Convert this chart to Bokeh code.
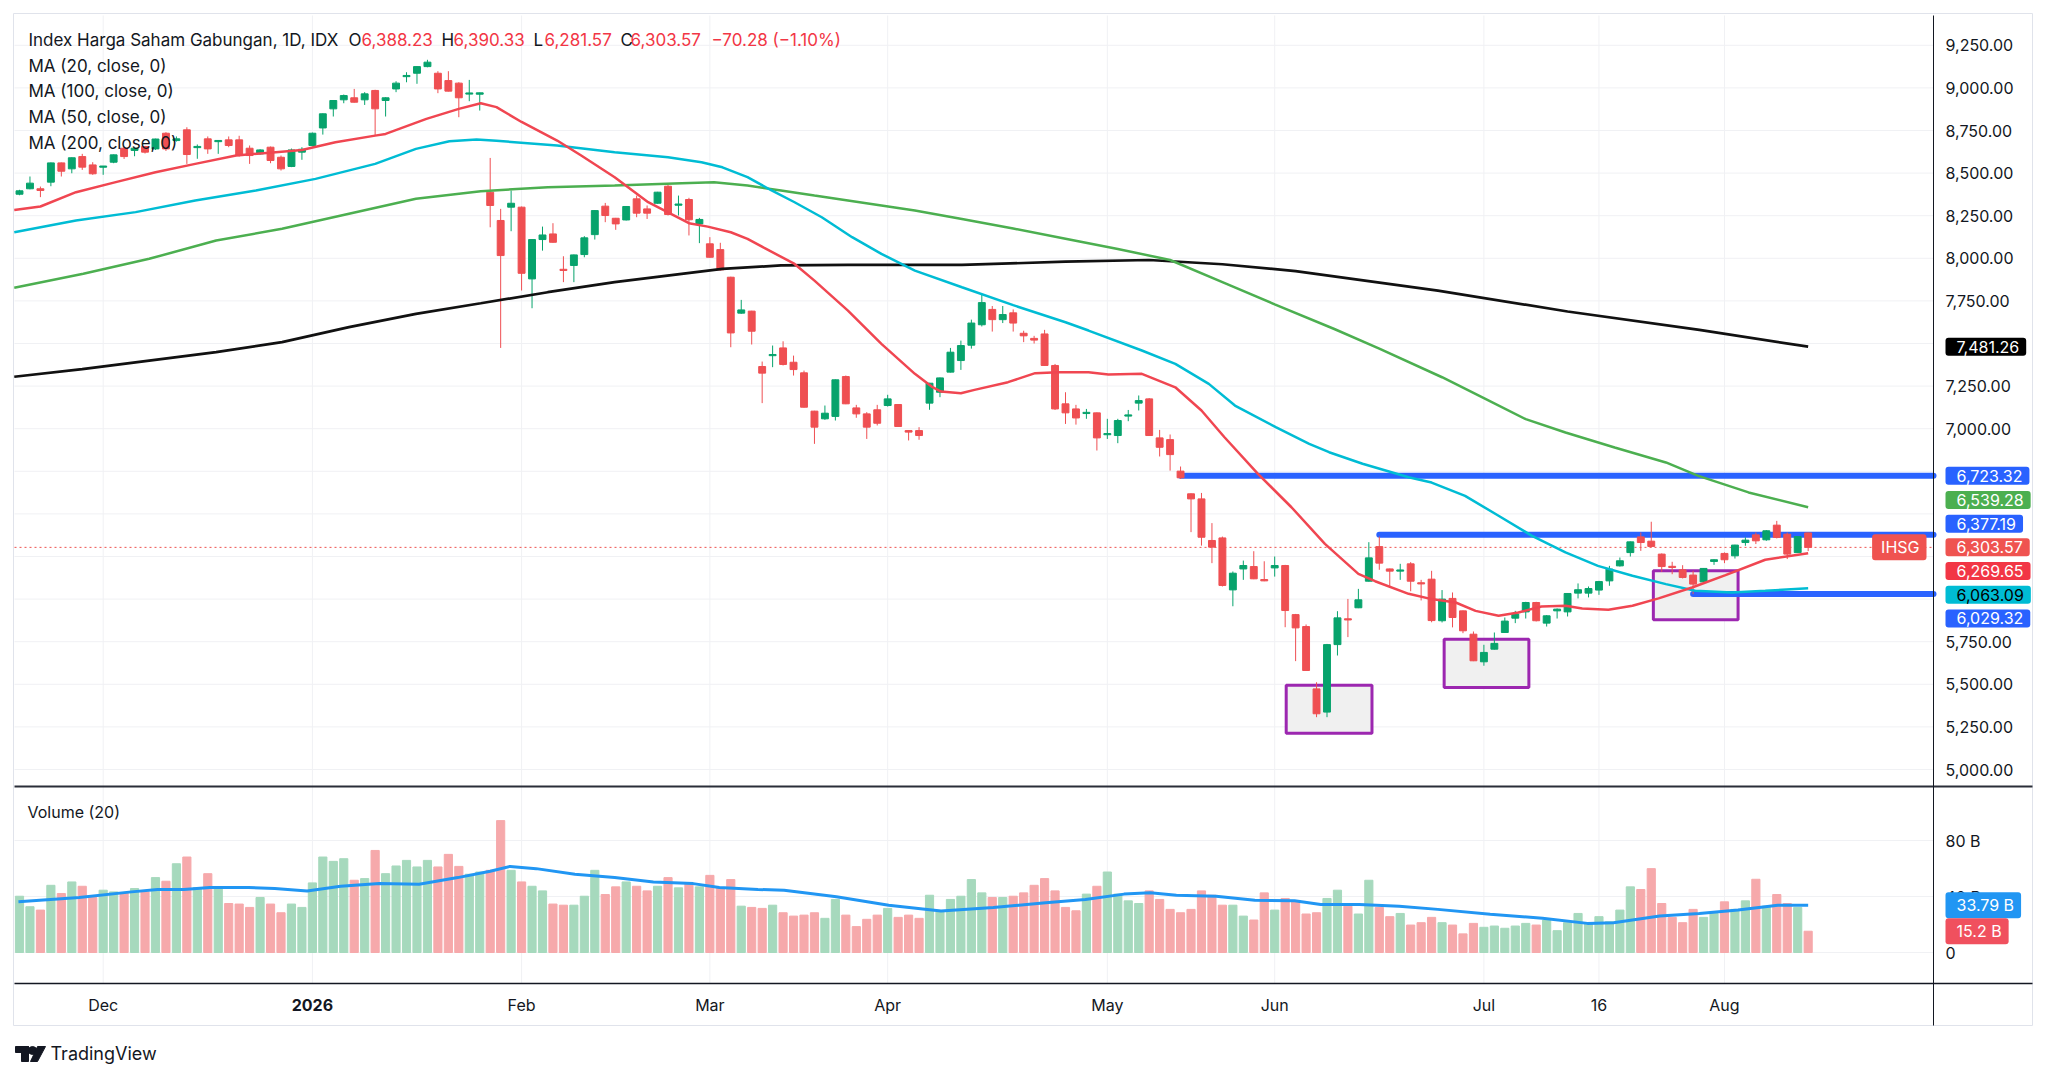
from bokeh.plotting import figure
from bokeh.models import Range1d, Label, ColumnDataSource
from bokeh.core.properties import value
from bokeh.embed import file_html
from bokeh.resources import INLINE

# ---------------- data ----------------
opens = [8376, 8408, 8408, 8447, 8560, 8525, 8597, 8548, 8535, 8564,
         8646, 8633, 8656, 8642, 8734, 8691, 8754, 8650, 8701, 8685,
         8695, 8695, 8646, 8613, 8652, 8593, 8539, 8623, 8662, 8765,
         8877, 8930, 8942, 8930, 8985, 8926, 8994, 9067, 9086, 9125,
         9086, 9043, 9028, 8965, 8963, 8388, 8222, 8300, 8300, 7879,
         8110, 8143, 7934, 7958, 8022, 8139, 8306, 8235, 8225, 8349,
         8290, 8323, 8423, 8314, 8345, 8202, 8085, 8051, 7889, 7678,
         7690, 7365, 7431, 7474, 7390, 7328, 7103, 7058, 7072, 7306,
         7122, 7087, 7111, 7136, 7142, 6989, 6989, 7150, 7214, 7332,
         7400, 7490, 7610, 7700, 7640, 7680, 7560, 7530, 7556, 7371,
         7146, 7116, 7090, 7093, 6966, 6960, 7075, 7150, 7175, 6946,
         6936, 6751, 6618, 6588, 6344, 6359, 6054, 6177, 6191, 6115,
         6183, 6197, 5909, 5839, 5473, 5337, 5733, 5882, 5949, 6105,
         6308, 6177, 6165, 6207, 6095, 6117, 5873, 6004, 5931, 5794,
         5632, 5706, 5804, 5888, 5925, 5980, 5859, 5931, 5925, 6035,
         6035, 6053, 6107, 6195, 6273, 6365, 6340, 6264, 6191, 6172,
         6141, 6101, 6221, 6268, 6254, 6332, 6377, 6348, 6434, 6381,
         6273, 6388.23]
highs = [8402, 8480, 8421, 8562, 8562, 8592, 8613, 8564, 8541, 8609,
         8656, 8648, 8660, 8702, 8740, 8715, 8769, 8668, 8715, 8693,
         8715, 8719, 8662, 8640, 8656, 8603, 8644, 8652, 8738, 8850,
         8928, 8961, 8994, 8975, 8989, 8945, 9039, 9092, 9127, 9165,
         9098, 9098, 9033, 9047, 8972, 8589, 8290, 8398, 8304, 8112,
         8186, 8206, 8012, 8022, 8130, 8282, 8325, 8237, 8306, 8368,
         8310, 8390, 8431, 8368, 8355, 8237, 8124, 8091, 7892, 7756,
         7692, 7394, 7488, 7513, 7429, 7341, 7105, 7136, 7289, 7312,
         7140, 7097, 7140, 7199, 7144, 6991, 7009, 7269, 7300, 7474,
         7517, 7640, 7790, 7720, 7720, 7700, 7575, 7545, 7580, 7380,
         7214, 7140, 7116, 7095, 7058, 7058, 7110, 7195, 7180, 6993,
         6966, 6778, 6620, 6623, 6446, 6367, 6162, 6226, 6281, 6222,
         6250, 6201, 5913, 5851, 5512, 5737, 5929, 6001, 6060, 6334,
         6367, 6179, 6207, 6217, 6113, 6166, 6053, 6039, 5933, 5810,
         5732, 5804, 5892, 5931, 5984, 5984, 5906, 5945, 6035, 6092,
         6074, 6107, 6195, 6244, 6338, 6391, 6454, 6268, 6219, 6199,
         6166, 6182, 6233, 6274, 6319, 6362, 6391, 6405, 6459, 6391,
         6369, 6390.33]
lows = [8370, 8405, 8359, 8423, 8480, 8499, 8519, 8490, 8490, 8558,
        8583, 8599, 8615, 8636, 8630, 8685, 8554, 8584, 8613, 8613,
        8652, 8597, 8554, 8608, 8558, 8515, 8535, 8578, 8656, 8726,
        8832, 8910, 8914, 8900, 8721, 8832, 8975, 9033, 9024, 9121,
        8969, 8979, 8828, 8922, 8867, 8182, 7474, 8159, 7811, 7707,
        8045, 8092, 7860, 7860, 8006, 8110, 8212, 8167, 8222, 8241,
        8231, 8320, 8251, 8251, 8134, 8089, 8004, 7928, 7478, 7674,
        7494, 7150, 7361, 7371, 7312, 7124, 6911, 7052, 7048, 7144,
        7064, 6940, 7019, 7130, 7011, 6931, 6935, 7111, 7185, 7330,
        7345, 7470, 7600, 7570, 7620, 7570, 7508, 7500, 7369, 7110,
        7028, 7024, 7058, 6872, 6940, 6915, 7044, 7107, 6958, 6837,
        6754, 6705, 6393, 6314, 6211, 6074, 5958, 6113, 6117, 6105,
        6132, 5835, 5636, 5579, 5307, 5307, 5669, 5777, 5947, 6103,
        6172, 6066, 6113, 6046, 5992, 5864, 5863, 5834, 5800, 5636,
        5609, 5704, 5802, 5859, 5886, 5869, 5839, 5886, 5898, 6004,
        6010, 6025, 6078, 6191, 6250, 6283, 6303, 6160, 6146, 6121,
        6029, 6099, 6201, 6211, 6238, 6313, 6323, 6342, 6356, 6235,
        6271, 6281.57]
closes = [8396, 8441, 8398, 8560, 8511, 8590, 8535, 8496, 8541, 8607,
          8597, 8646, 8623, 8700, 8642, 8701, 8609, 8656, 8642, 8691,
          8662, 8603, 8603, 8636, 8574, 8525, 8636, 8640, 8734, 8848,
          8926, 8955, 8916, 8965, 8877, 8942, 9028, 9072, 9125, 9151,
          8994, 8981, 8942, 8969, 8971, 8310, 8016, 8323, 7912, 8110,
          8137, 8094, 7930, 8020, 8120, 8280, 8251, 8202, 8304, 8265,
          8265, 8388, 8257, 8316, 8226, 8228, 8006, 7932, 7562, 7697,
          7572, 7326, 7433, 7377, 7347, 7126, 7009, 7091, 7287, 7146,
          7087, 7009, 7032, 7175, 7013, 6980, 6960, 7267, 7298, 7449,
          7488, 7620, 7740, 7640, 7670, 7620, 7545, 7520, 7371, 7116,
          7093, 7063, 7095, 6946, 6970, 7048, 7080, 7165, 6960, 6891,
          6848, 6712, 6588, 6363, 6305, 6080, 6152, 6197, 6119, 6107,
          6197, 5933, 5831, 5581, 5327, 5733, 5890, 5880, 5996, 6242,
          6211, 6164, 6170, 6105, 6090, 5874, 6000, 5892, 5814, 5638,
          5687, 5740, 5871, 5912, 5980, 5873, 5902, 5941, 6033, 6055,
          6062, 6103, 6176, 6225, 6336, 6332, 6309, 6191, 6187, 6127,
          6088, 6180, 6231, 6231, 6317, 6346, 6342, 6401, 6362, 6264,
          6367, 6303.57]
volumes_b = [40.2, 32.7, 30.3, 48.0, 42.1, 50.4, 47.3, 39.3, 44.5, 43.3,
             42.6, 45.7, 43.3, 53.5, 50.9, 63.4, 68.2, 46.4, 56.3, 46.4,
             35.0, 34.6, 32.2, 39.3, 34.6, 28.4, 34.6, 32.2, 49.7, 68.2,
             65.1, 67.0, 51.6, 52.8, 72.9, 56.3, 61.8, 65.8, 61.1, 65.8,
             61.1, 70.1, 61.5, 55.9, 57.5, 58.7, 94.2, 58.7, 50.4, 47.3,
             44.0, 34.6, 33.8, 33.8, 40.2, 58.7, 41.4, 46.9, 50.4, 47.3,
             44.0, 47.3, 53.5, 46.2, 49.7, 46.9, 55.1, 46.4, 52.1, 33.1,
             32.2, 31.5, 33.8, 28.4, 26.0, 26.7, 28.4, 24.4, 37.9, 26.7,
             18.5, 23.7, 26.7, 31.5, 25.1, 26.7, 24.4, 40.9, 29.1, 37.9,
             40.2, 52.1, 42.6, 39.3, 39.3, 40.2, 42.6, 48.0, 52.8, 44.0,
             32.2, 29.8, 41.7, 47.3, 57.5, 41.7, 36.9, 35.0, 44.0, 37.9,
             30.8, 28.4, 30.8, 44.0, 40.9, 33.8, 33.8, 26.0, 23.2, 42.6,
             30.3, 38.6, 36.9, 27.5, 28.4, 38.6, 44.5, 33.1, 27.5, 51.6,
             32.2, 25.6, 27.9, 19.6, 21.3, 25.1, 21.3, 19.6, 13.3, 20.8,
             18.0, 18.9, 17.3, 18.9, 20.8, 19.6, 23.2, 15.6, 21.3, 27.9,
             21.3, 25.6, 22.0, 30.3, 46.9, 45.0, 59.9, 35.0, 25.1, 21.3,
             30.8, 25.1, 27.9, 36.2, 30.8, 36.9, 52.3, 33.1, 41.4, 35.0,
             32.2, 15.2]

# moving-average lines, sampled along the picture (bar index, value)
ma20_x = [-0.5, 2, 5.4, 9.2, 13, 16.8, 20.7, 24.5, 27, 30.2, 34, 35, 38.9, 42, 44.1, 45.6, 48,
          51.4, 53.7, 56.9, 60.1, 62, 64, 65.8, 68, 69.6, 71.2, 74.1, 76, 79.2, 82.4, 85.6, 87.2,
          88.1, 90, 91.3, 94.5, 97.1, 99.3, 102.2, 104.1, 107.3, 110.5, 113, 115.2, 118.4, 121.6,
          124.8, 128, 129.6, 132.8, 135, 137.3, 139.2, 141.4, 143.3, 145.5, 147.8, 149.4, 151.9,
          154.2, 156.7, 159.9, 163.1, 166.9, 171]
ma20_y = [8284, 8304, 8388, 8447, 8505, 8554, 8603, 8623, 8636, 8681, 8720, 8730, 8818, 8877, 8910, 8887, 8800,
          8691, 8603, 8476, 8329, 8270, 8206, 8186, 8153, 8114, 8061, 7967, 7869, 7693, 7498, 7322, 7247,
          7218, 7208, 7228, 7273, 7326, 7331, 7331, 7318, 7322, 7243, 7107, 6950, 6735, 6539,
          6324, 6148, 6105, 6031, 6000, 5980, 5931, 5902, 5921, 5957, 5961, 5945, 5937,
          5961, 6004, 6068, 6141, 6231, 6269.65]
ma50_x = [-0.5, 5.4, 11.1, 16.8, 22.6, 28.3, 34, 37.9, 41.1, 43.7, 45.6, 51.4, 56.9, 62, 65.2, 67.2,
          69.6, 71.9, 74.1, 76.7, 79.6, 82.4, 85.6, 90.1, 95, 100, 102.2, 107.3, 110.5, 113.7, 116.2,
          120.1, 123.3, 125.2, 128.4, 132.8, 135, 138.2, 141.4, 144.6, 147.8, 150.9, 154.2, 157.4,
          160.2, 163.7, 166.9, 171]
ma50_y = [8153, 8222, 8271, 8339, 8398, 8466, 8554, 8642, 8687, 8697, 8690, 8662, 8623, 8593, 8564, 8534,
          8476, 8398, 8329, 8241, 8124, 8026, 7928, 7830, 7725, 7625, 7576, 7459, 7380, 7263, 7136,
          7009, 6911, 6862, 6794, 6715, 6684, 6606, 6489, 6371, 6274, 6195, 6137, 6088,
          6049, 6039, 6049, 6063.09]
ma100_x = [-0.5, 6.1, 12.4, 18.8, 25.1, 31.5, 37.9, 44.1, 50.5, 56.9, 63.3, 66.4, 69.6, 72.8, 76, 79.2,
           82.4, 85.6, 90.1, 95, 100, 105, 110, 115, 120, 125.7, 130, 136, 140, 144, 147.8, 152.5,
           157.4, 160.5, 165.3, 171]
ma100_y = [7827, 7909, 7997, 8104, 8173, 8261, 8349, 8394, 8417, 8427, 8441, 8446, 8427, 8398, 8368, 8339,
           8310, 8280, 8231, 8175, 8115, 8055, 7990, 7860, 7730, 7585, 7470, 7302, 7180, 7056, 6978, 6890,
           6802, 6723, 6626, 6539.28]
ma200_x = [-0.5, 6, 12.4, 18.8, 25.1, 31.5, 37.9, 44.1, 50.5, 56.9, 63.3, 67.2, 72.8, 79.2, 85.6, 90.1,
           100, 108, 115, 122, 135.6, 148, 160.6, 171]
ma200_y = [7305, 7350, 7400, 7449, 7508, 7596, 7674, 7736, 7801, 7860, 7909, 7938, 7958, 7961, 7961, 7961,
           7980, 7990, 7965, 7925, 7810, 7688, 7580, 7481.26]
volma_x = [-0.1, 5.7, 10.7, 13.2, 15.7, 18.2, 21.9, 24.4, 27.5, 30.7, 34.4, 38.2, 41.9, 45.0, 46.9, 49.4,
           53.1, 56.9, 60.6, 64.4, 66.9, 70.6, 73.1, 78.1, 83.1, 88.1, 93.1, 98.1, 101.9, 105.6, 108.1,
           110.6, 114.4, 118.1, 121.9, 124.4, 128.1, 131.9, 135.6, 140.6, 145.6, 149.9, 152.4, 156.8,
           160.6, 164.3, 168.1, 171]
volma_y = [36.2, 39.3, 43.3, 45.0, 45.0, 46.4, 46.4, 45.7, 44.0, 47.3, 49.2, 48.8, 53.5, 58.0, 61.5, 59.9,
           55.9, 53.5, 50.4, 49.2, 46.4, 45.0, 44.5, 39.8, 33.8, 29.6, 32.2, 35.5, 37.9, 41.7, 42.6,
           40.9, 40.2, 37.4, 36.9, 34.3, 34.3, 33.1, 30.8, 27.4, 24.4, 20.8, 21.3, 26.0,
           27.9, 30.3, 33.8, 33.79]

# drawings
level_values = [6723.32, 6377.19, 6029.32]
level_start = [111, 130, 160]
box_left = [121.1, 136.2, 156.2]
box_right = [129.3, 144.3, 164.3]
box_top = [5495, 5765, 6166]
box_bottom = [5213, 5481, 5879]

# axes
price_ticks = [5000, 5250, 5500, 5750, 6000, 6250, 6500, 6750, 7000, 7250,
               7500, 7750, 8000, 8250, 8500, 8750, 9000, 9250]
vol_ticks = [0, 40, 80]
vol_tick_labels = ["0", "40 B", "80 B"]
time_ticks = [8, 28, 48, 66, 83, 104, 120, 140, 151, 163]
time_labels = ["Dec", "2026", "Feb", "Mar", "Apr", "May", "Jun", "Jul", "16", "Aug"]
time_bold = [False, True, False, False, False, False, False, False, False, False]

last_close = 6303.57
header_title = "Index Harga Saham Gabungan, 1D, IDX"
header_fields = [("O", "6,388.23"), ("H", "6,390.33"), ("L", "6,281.57"), ("C", "6,303.57")]
header_change = "\u221270.28 (\u22121.10%)"
legend_lines = ["MA (20, close, 0)", "MA (100, close, 0)", "MA (50, close, 0)", "MA (200, close, 0)"]

# ---------------- layout (screen pixels of the reference) ----------------
W, H = 2040, 1075
PANE_L, AXIS_X, CHART_R = 14, 1933, 2032
PANE_T, SEP_Y, PANE_B, CHART_B = 15, 786, 983, 1025
BAR_PX, BAR0_PX = 10.46, 19
PX_PER_PT, Y_5000 = 0.1704, 769
PX_PER_B, Y_VOL0 = 1.4, 952


def bx(x):
    return (x - BAR0_PX) / BAR_PX


def py(y):
    return 5000 + (Y_5000 - y) / PX_PER_PT


def vy(y):
    return (Y_VOL0 - y) / PX_PER_B


FONT = "Inter"
INK = "#131722"
UP, DOWN = "#07A36C", "#EF4F52"
VUP, VDOWN = "#A6D9BD", "#F6A9AB"
GRID = "#F0F1F4"
BLUE = "#2962FF"
TICK_SIZE = "16px"

p = figure(width=W, height=H, x_range=Range1d(bx(0), bx(W)), y_range=Range1d(py(H), py(0)),
           output_backend="svg", toolbar_location=None, x_axis_location=None, y_axis_location=None,
           min_border=0, outline_line_color=None, background_fill_color="white",
           border_fill_color="white")
p.extra_y_ranges = {"vol": Range1d(vy(H), vy(0))}
p.grid.visible = False

XL, XA, XR = bx(PANE_L), bx(AXIS_X), bx(CHART_R)

# price tags stacked around the current price (positions on the price scale)
GAP = 23.7 / PX_PER_PT
tags = [(6723.32, BLUE, "white"), (6539.28, "#4CAF50", "white"), (6377.19, BLUE, "white"),
        (6269.65, "#F23645", "white"), (6063.09, "#00BCD4", "black"), (6029.32, BLUE, "white")]
pos = {}
prev = last_close
for v, bg, fg in sorted([t for t in tags if t[0] > last_close], key=lambda t: t[0]):
    prev = max(v, prev + GAP)
    pos[v] = prev
prev = last_close
for v, bg, fg in sorted([t for t in tags if t[0] < last_close], key=lambda t: -t[0]):
    prev = min(v, prev - GAP)
    pos[v] = prev
tag_y = list(pos.values()) + [last_close, 7481.26]
HIDE = 16 / PX_PER_PT
shown_ticks = [t for t in price_ticks if all(abs(t - y) > HIDE for y in tag_y)]

# chart frame, grids and pane lines
p.quad(left=[bx(13)], right=[XR], top=[py(13)], bottom=[py(CHART_B)], fill_color=None,
       line_color="#E0E3EB", line_width=1)
p.segment(x0=[XL] * len(price_ticks), x1=[XA] * len(price_ticks), y0=price_ticks, y1=price_ticks,
          line_color=GRID, line_width=1)
p.segment(x0=[XL] * 3, x1=[XA] * 3, y0=vol_ticks, y1=vol_ticks, y_range_name="vol",
          line_color=GRID, line_width=1)
p.segment(x0=time_ticks, x1=time_ticks, y0=[py(PANE_T)] * len(time_ticks),
          y1=[py(PANE_B)] * len(time_ticks), line_color=GRID, line_width=1)

n = len(closes)
idx = list(range(n))
is_up = [c >= o for o, c in zip(opens, closes)]
body_top, body_bot = [], []
for o, c in zip(opens, closes):
    t, b = max(o, c), min(o, c)
    if t - b < 7:
        m = (t + b) / 2
        t, b = m + 3.5, m - 3.5
    body_top.append(t)
    body_bot.append(b)
src = ColumnDataSource(dict(x=idx, high=highs, low=lows, top=body_top, bot=body_bot,
                            col=[UP if u else DOWN for u in is_up],
                            vcol=[VUP if u else VDOWN for u in is_up], vol=volumes_b))

# boxes
p.quad(left=box_left, right=box_right, top=box_top, bottom=box_bottom,
       fill_color="#EFEFEF", fill_alpha=0.95, line_color="#9C27B0", line_width=3)
# current price dotted line
p.segment(x0=[XL], x1=[XA], y0=[last_close], y1=[last_close],
          line_color="#EF5350", line_width=1, line_dash="2 3")
# horizontal levels
p.segment(x0=level_start, x1=[XA] * len(level_values), y0=level_values, y1=level_values,
          line_color=BLUE, line_width=6, line_cap="round")

# volume
p.vbar(x="x", top="vol", bottom=0, width=0.78, color="vcol", source=src, y_range_name="vol")
p.line(volma_x, volma_y, line_color="#2196F3", line_width=3, y_range_name="vol")

# candles
p.segment(x0="x", x1="x", y0="low", y1="high", line_color="col", line_width=1, source=src)
p.vbar(x="x", top="top", bottom="bot", width=0.66, fill_color="col", line_color="col", source=src)

# moving averages
p.line(ma200_x, ma200_y, line_color="#111111", line_width=2.7)
p.line(ma100_x, ma100_y, line_color="#4CAF50", line_width=2.5)
p.line(ma50_x, ma50_y, line_color="#00BCD4", line_width=2.5)
p.line(ma20_x, ma20_y, line_color="#F04651", line_width=2.5)

# axis lines (drawn over the panes)
p.segment(x0=[XL], x1=[XR], y0=[py(SEP_Y)], y1=[py(SEP_Y)], line_color="#2A2E39", line_width=2)
p.segment(x0=[XL], x1=[XR], y0=[py(PANE_B)], y1=[py(PANE_B)], line_color=INK, line_width=1.5)
p.segment(x0=[XA], x1=[XA], y0=[py(PANE_T)], y1=[py(CHART_B)], line_color=INK, line_width=1)

# price scale labels
p.text(x=[bx(1945)] * len(shown_ticks), y=shown_ticks, text=[f"{t:,.2f}" for t in shown_ticks],
       text_font=value(FONT), text_font_size=value(TICK_SIZE), text_color=INK,
       text_baseline="middle", text_align="left")
# volume scale labels
p.text(x=[bx(1945)] * 3, y=vol_ticks, text=vol_tick_labels, y_range_name="vol",
       text_font=value(FONT), text_font_size=value(TICK_SIZE), text_color=INK,
       text_baseline="middle", text_align="left")
# time scale labels
for bold in (False, True):
    sel = [k for k, b in enumerate(time_bold) if b == bold]
    p.text(x=[time_ticks[k] for k in sel], y=[vy(1004)] * len(sel), text=[time_labels[k] for k in sel],
           y_range_name="vol", text_font=value(FONT), text_font_size=value(TICK_SIZE),
           text_color=INK, text_baseline="middle", text_align="center",
           text_font_style="bold" if bold else "normal")

# TradingView mark
p.quad(left=[bx(15), bx(21)], right=[bx(28), bx(28)], top=[vy(1046), vy(1046)],
       bottom=[vy(1052), vy(1061)], y_range_name="vol", color="#131722")
p.scatter(x=[bx(32)], y=[vy(1050)], size=8, marker="circle", color="#131722", y_range_name="vol")
p.patch(x=[bx(37), bx(45), bx(37), bx(30)], y=[vy(1046), vy(1046), vy(1061), vy(1061)],
        y_range_name="vol", color="#131722")
p.text(x=[bx(50)], y=[vy(1053)], text=["TradingView"], y_range_name="vol",
       text_font=value(FONT), text_font_size=value("18px"), text_color=INK,
       text_baseline="middle", text_align="left")


def label(x, y, text, color=INK, size="17px", yr="default"):
    p.add_layout(Label(x=x, x_units="canvas", y=y, y_units="data", y_range_name=yr, text=text,
                       text_color=color, text_font=FONT, text_font_size=size, text_align="left",
                       text_baseline="middle"))


# legend / header
label(28, py(39), header_title)
hx = [(348, 361), (441, 453), (533, 544), (620, 630)]
for (k, v), (kx, vx) in zip(header_fields, hx):
    label(kx, py(39), k)
    label(vx, py(39), v, color="#F23645")
label(711, py(39), header_change, color="#F23645")
for k, t in enumerate(legend_lines):
    label(28, py(65 + 25.8 * k), t)
label(27, vy(811), "Volume (20)", yr="vol", size="16px")


def tag(y, text, bg, fg="white", yr="default"):
    p.add_layout(Label(x=AXIS_X + 1 + 11, x_units="canvas", y=y, y_units="data", y_range_name=yr,
                       text=text, text_color=fg, text_font=FONT, text_font_size=TICK_SIZE,
                       text_align="left", text_baseline="middle", background_fill_color=bg,
                       padding=dict(left=11, right=7, top=3, bottom=3), border_radius=3))


for v, bg, fg in tags:
    tag(pos[v], f"{v:,.2f}", bg, fg)
tag(7481.26, "7,481.26", "#000000")
tag(last_close, f"{last_close:,.2f}", "#EF5350")
p.add_layout(Label(x=AXIS_X - 7, x_units="canvas", y=last_close, y_units="data", text="IHSG",
                   text_color="white", text_font=FONT, text_font_size=TICK_SIZE, text_align="right",
                   text_baseline="middle", background_fill_color="#EF5350",
                   padding=dict(left=9, right=7, top=3, bottom=3), border_radius=3))
tag(volma_y[-1], "33.79 B", "#2196F3", yr="vol")
tag(volumes_b[-1], "15.2 B", "#F0505E", yr="vol")

open("out.html", "w").write(file_html(p, INLINE))
